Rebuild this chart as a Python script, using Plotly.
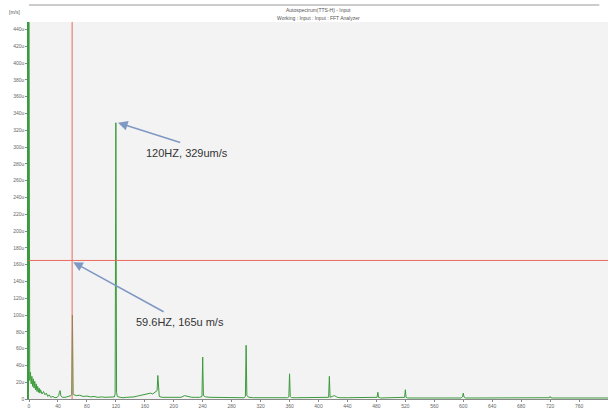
import plotly.graph_objects as go

# ---- data (frequency in Hz, amplitude in um/s) ----
freq = [0, 0.5, 1, 2, 3, 4, 5, 6, 7, 8, 9, 10, 11, 12, 13, 14, 15, 16, 18, 20,
        22, 24, 26, 28, 30, 33, 36, 39, 41, 42, 43, 44, 46, 50, 55, 58, 59, 60,
        61, 62, 66, 70, 75, 80, 85, 90, 95, 100, 105, 110, 115, 118, 119, 120,
        121, 122, 126, 130, 135, 140, 145, 150, 155, 160, 165, 168, 171, 174,
        176, 177, 178, 179, 180, 184, 190, 200, 210, 215, 220, 225, 230, 236,
        239, 240, 241, 244, 250, 260, 270, 280, 290, 297, 299, 300, 301, 304,
        310, 320, 330, 340, 350, 357, 359, 360, 361, 363, 370, 380, 390, 400,
        410, 414, 415, 416, 419, 422, 426, 430, 440, 450, 460, 470, 478, 481,
        482, 483, 486, 500, 510, 517, 519, 520, 521, 523, 530, 540, 550, 560,
        570, 580, 590, 597, 599, 600, 601, 603, 620, 640, 660, 680, 700, 717,
        719, 720, 721, 723, 740, 760, 780, 800]
amp = [500, 30, 22, 32, 18, 27, 15, 24, 13, 21, 11, 18, 9, 15, 8, 13, 7, 11, 6, 9,
       5, 7, 3, 5, 2, 3, 1.5, 2, 4, 8, 10, 4, 2, 2, 3, 4, 5, 100,
       6, 5, 4, 4.5, 3, 3.5, 2.5, 3, 2, 2.5, 2, 2, 2, 2.5, 6, 329,
       8, 3, 2, 1.5, 2, 2, 2.5, 3.5, 4.5, 5.5, 6.5, 7, 6, 8,
       9, 10, 28, 8, 3, 2, 2, 1.5, 2, 4, 3, 2, 2, 2,
       3, 50, 4, 2.5, 2, 2, 1.5, 1.5, 1.5, 1.5, 3, 64, 4, 2,
       1.5, 1.5, 1.5, 1.5, 1.5, 1.5, 2.5, 30, 3, 1.5, 1.5, 1.5, 1.5, 1.5,
       1.5, 2, 27, 2, 3, 4, 2, 1.5, 1.5, 1.5, 1.2, 1.2, 1.2, 2,
       8, 2, 1.2, 1.2, 1.2, 1.2, 2, 11, 2, 1.2, 1.2, 2, 1.2, 1.2,
       1.2, 1.2, 1.2, 1.2, 2.5, 7, 2.5, 1.2, 1.2, 1.2, 1.2, 1.2, 1.2, 1.2,
       1.5, 3, 1.5, 1.2, 1.2, 1.2, 1.2, 1.2]

x_tick_vals = [0, 40, 80, 120, 160, 200, 240, 280, 320, 360, 400, 440, 480,
               520, 560, 600, 640, 680, 720, 760]
x_tick_text = [str(v) for v in x_tick_vals]
y_tick_vals = [0, 20, 40, 60, 80, 100, 120, 140, 160, 180, 200, 220, 240, 260,
               280, 300, 320, 340, 360, 380, 400, 420, 440]
y_tick_text = ["0"] + [f"{v}u" for v in y_tick_vals[1:]]

cursor_freq = 59.6
cursor_amp = 165
peak_freq = 120
peak_amp = 329

title_lines = ["Autospectrum(TTS-H) - Input", "Working : Input : Input : FFT Analyzer"]
unit_label = "[m/s]"
note_peak = "120HZ, 329um/s"
note_cursor = "59.6HZ, 165u m/s"

fig = go.Figure()
fig.add_trace(go.Scatter(x=freq, y=amp, mode="lines",
                         line=dict(color="#3b9a3b", width=1), showlegend=False))

# cursor lines
fig.add_shape(type="line", xref="x", yref="paper", x0=cursor_freq, x1=cursor_freq,
              y0=0, y1=1, line=dict(color="#e86a5c", width=1))
fig.add_shape(type="line", xref="paper", yref="y", x0=0, x1=1,
              y0=cursor_amp, y1=cursor_amp, line=dict(color="#e86a5c", width=1))
# top rule
fig.add_shape(type="line", xref="paper", yref="paper", x0=0, x1=0.985,
              y0=1.045, y1=1.045, line=dict(color="#bbbbbb", width=1.5))

arrow_col = "#7f98c4"
fig.add_annotation(x=peak_freq + 3, y=peak_amp, ax=211, ay=305, axref="x", ayref="y",
                   xref="x", yref="y", text="", showarrow=True, arrowhead=2,
                   arrowsize=1.2, arrowwidth=1.6, arrowcolor=arrow_col)
fig.add_annotation(x=218, y=293, xref="x", yref="y", text=note_peak, showarrow=False,
                   font=dict(family="Liberation Sans", size=11, color="#333333"))
fig.add_annotation(x=cursor_freq + 1.5, y=cursor_amp - 2, ax=188, ay=103, axref="x", ayref="y",
                   xref="x", yref="y", text="", showarrow=True, arrowhead=2,
                   arrowsize=1.2, arrowwidth=1.6, arrowcolor=arrow_col)
fig.add_annotation(x=208, y=92, xref="x", yref="y", text=note_cursor, showarrow=False,
                   font=dict(family="Liberation Sans", size=11, color="#333333"))

# header texts
fig.add_annotation(x=0.5, y=1.045, xref="paper", yref="paper", text=title_lines[0],
                   showarrow=False, yanchor="top",
                   font=dict(family="Liberation Sans", size=5, color="#555555"))
fig.add_annotation(x=0.5, y=1.025, xref="paper", yref="paper", text=title_lines[1],
                   showarrow=False, yanchor="top",
                   font=dict(family="Liberation Sans", size=5, color="#555555"))
fig.add_annotation(x=-0.025, y=1.04, xref="paper", yref="paper", text=unit_label,
                   showarrow=False, yanchor="top", xanchor="center",
                   font=dict(family="Liberation Sans", size=5, color="#555555"))

fig.update_layout(
    width=614, height=412,
    margin=dict(l=29, r=6, t=22, b=13),
    paper_bgcolor="white", plot_bgcolor="#f3f3f3",
    xaxis=dict(range=[0, 800], tickvals=x_tick_vals, ticktext=x_tick_text,
               automargin=False,
               showgrid=False, zeroline=False, showline=True, linecolor="#888888",
               linewidth=1, ticks="outside", ticklen=2, tickcolor="#888888",
               tickfont=dict(family="Liberation Sans", size=5, color="#666666")),
    yaxis=dict(range=[0, 449], tickvals=y_tick_vals, ticktext=y_tick_text,
               automargin=False,
               showgrid=False, zeroline=False, showline=True, linecolor="#3b9a3b",
               linewidth=1.5, ticks="outside", ticklen=2, tickcolor="#888888",
               tickfont=dict(family="Liberation Sans", size=5, color="#666666")),
)

fig.write_html("out.html", config={"displayModeBar": False},
               post_script="document.body.style.margin='0';document.body.style.overflow='hidden';")
